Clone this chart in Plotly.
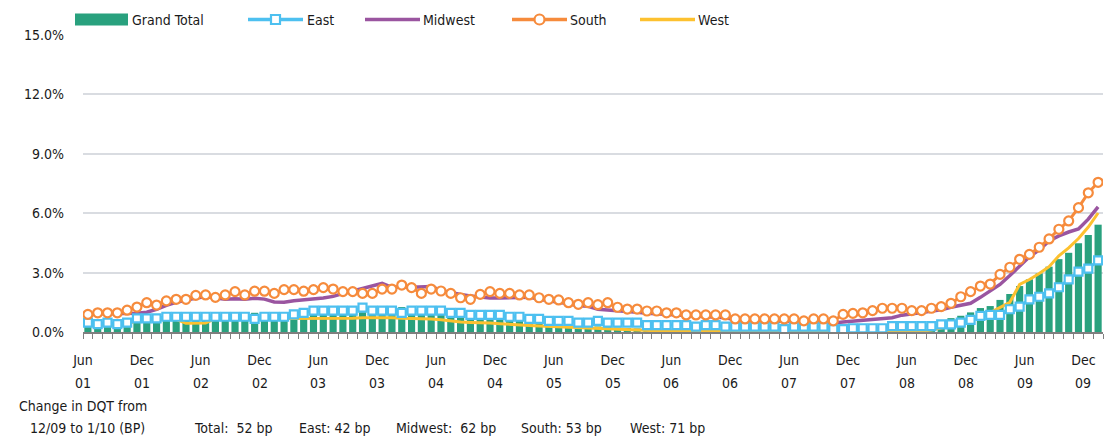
import plotly.graph_objects as go
import pandas as pd

# ---------------- data (percent) ----------------
months = [d.strftime("%b %y") for d in pd.date_range("2001-06-01", periods=104, freq="MS")]

grand_total = [
    0.25, 0.22, 0.25, 0.22, 0.25, 0.55, 0.55, 0.55, 0.75, 0.75,
    0.75, 0.75, 0.75, 0.75, 0.75, 0.75, 0.75, 0.97, 0.78, 0.78,
    0.80, 0.85, 0.90, 0.95, 0.95, 0.95, 0.95, 0.98, 1.00, 1.05,
    1.10, 1.10, 1.26, 1.10, 1.05, 1.00, 0.98, 0.92, 0.88, 0.82,
    0.78, 0.72, 0.68, 0.60, 0.55, 0.50, 0.45, 0.40, 0.36, 0.34,
    0.30, 0.28, 0.28, 0.25, 0.22, 0.20, 0.18, 0.14, 0.14, 0.14,
    0.14, 0.14, 0.14, 0.14, 0.14, 0.14, 0.10, 0.10, 0.10, 0.10,
    0.10, 0.10, 0.10, 0.10, 0.10, 0.10, 0.10, 0.10, 0.12, 0.12,
    0.15, 0.15, 0.20, 0.25, 0.30, 0.40, 0.50, 0.58, 0.70, 0.82,
    0.99, 1.21, 1.31, 1.62, 1.92, 2.32, 2.66, 2.96, 3.30, 3.68,
    4.00, 4.48, 4.90, 5.42,
]
east = [
    0.47, 0.40, 0.47, 0.40, 0.47, 0.69, 0.69, 0.69, 0.77, 0.77,
    0.77, 0.77, 0.77, 0.77, 0.77, 0.77, 0.77, 0.66, 0.77, 0.77,
    0.77, 0.89, 0.97, 1.08, 1.08, 1.08, 1.08, 1.08, 1.23, 1.08,
    1.08, 1.08, 0.97, 1.08, 1.08, 1.08, 1.08, 0.97, 0.97, 0.86,
    0.86, 0.86, 0.86, 0.77, 0.77, 0.66, 0.66, 0.56, 0.56, 0.56,
    0.47, 0.47, 0.56, 0.47, 0.47, 0.47, 0.47, 0.35, 0.35, 0.35,
    0.35, 0.35, 0.27, 0.35, 0.35, 0.27, 0.27, 0.27, 0.27, 0.27,
    0.27, 0.15, 0.27, 0.27, 0.27, 0.27, 0.15, 0.15, 0.19, 0.19,
    0.19, 0.19, 0.30, 0.30, 0.30, 0.30, 0.30, 0.39, 0.39, 0.47,
    0.61, 0.81, 0.86, 0.86, 1.15, 1.28, 1.65, 1.78, 1.95, 2.26,
    2.66, 3.05, 3.20, 3.62,
]
midwest = [
    0.85, 0.92, 0.92, 0.92, 0.95, 0.95, 1.00, 1.15, 1.35, 1.50,
    1.60, 1.72, 1.78, 1.72, 1.66, 1.68, 1.66, 1.70, 1.66, 1.52,
    1.50, 1.58, 1.62, 1.68, 1.72, 1.80, 1.95, 2.08, 2.20, 2.32,
    2.46, 2.25, 2.28, 2.26, 2.30, 2.30, 2.10, 1.98, 1.90, 1.82,
    1.75, 1.72, 1.72, 1.74, 1.78, 1.76, 1.65, 1.58, 1.52, 1.42,
    1.32, 1.30, 1.15, 1.12, 1.08, 1.02, 1.00, 0.95, 0.92, 0.88,
    0.85, 0.80, 0.78, 0.76, 0.74, 0.72, 0.62, 0.60, 0.58, 0.57,
    0.56, 0.55, 0.54, 0.50, 0.52, 0.50, 0.45, 0.50, 0.55, 0.58,
    0.62, 0.66, 0.72, 0.85, 0.92, 0.97, 1.03, 1.12, 1.25, 1.35,
    1.45, 1.75, 2.05, 2.40, 2.85, 3.35, 3.80, 4.15, 4.60, 4.85,
    5.05, 5.20, 5.70, 6.32,
]
south = [
    0.89, 0.97, 0.97, 0.97, 1.10, 1.26, 1.48, 1.36, 1.57, 1.65,
    1.65, 1.85, 1.87, 1.75, 1.87, 2.04, 1.87, 2.06, 2.06, 1.95,
    2.14, 2.14, 2.06, 2.14, 2.24, 2.17, 2.04, 2.04, 1.95, 1.95,
    2.17, 2.17, 2.37, 2.24, 1.95, 2.17, 2.07, 1.95, 1.73, 1.65,
    1.90, 2.04, 1.95, 1.95, 1.87, 1.87, 1.73, 1.65, 1.62, 1.48,
    1.40, 1.48, 1.38, 1.48, 1.25, 1.16, 1.16, 1.06, 1.06, 0.97,
    0.97, 0.86, 0.86, 0.86, 0.86, 0.86, 0.66, 0.66, 0.66, 0.66,
    0.66, 0.66, 0.66, 0.56, 0.66, 0.66, 0.56, 0.89, 0.94, 0.97,
    1.08, 1.20, 1.20, 1.20, 1.08, 1.08, 1.20, 1.28, 1.45, 1.78,
    2.04, 2.32, 2.42, 2.91, 3.27, 3.67, 3.92, 4.28, 4.70, 5.19,
    5.61, 6.28, 7.03, 7.56,
]
west = [
    0.35, 0.35, 0.35, 0.35, 0.35, 0.62, 0.62, 0.62, 0.64, 0.64,
    0.44, 0.44, 0.46, 0.68, 0.68, 0.68, 0.68, 0.62, 0.68, 0.68,
    0.68, 0.70, 0.70, 0.70, 0.70, 0.70, 0.70, 0.70, 0.72, 0.72,
    0.75, 0.72, 0.70, 0.69, 0.66, 0.66, 0.62, 0.55, 0.50, 0.48,
    0.48, 0.45, 0.42, 0.38, 0.35, 0.33, 0.30, 0.28, 0.25, 0.22,
    0.20, 0.18, 0.16, 0.15, 0.14, 0.12, 0.10, 0.06, 0.06, 0.06,
    0.06, 0.06, 0.06, 0.06, 0.06, 0.06, 0.04, 0.04, 0.04, 0.04,
    0.04, 0.04, 0.04, 0.04, 0.04, 0.04, 0.04, 0.04, 0.04, 0.04,
    0.04, 0.04, 0.04, 0.04, 0.04, 0.04, 0.10, 0.20, 0.30, 0.45,
    0.60, 0.78, 0.98, 1.22, 1.50, 2.40, 2.65, 2.95, 3.30, 3.85,
    4.25, 4.72, 5.30, 6.01,
]

y_ticks = [0, 3, 6, 9, 12, 15]
change_labels = ["Total:\u00a0 52 bp", "East: 42 bp", "Midwest:\u00a0 62 bp", "South: 53 bp", "West: 71 bp"]

# ---------------- styling ----------------
FONT = "DejaVu Sans Condensed, Liberation Sans, Arial, sans-serif"
FS = 14
TXT = "#1a1a1a"
C_GREEN = "#29a17e"
C_BLUE = "#4dc0f0"
C_PURPLE = "#9a55a0"
C_ORANGE = "#f68b3c"
C_YELLOW = "#fdc12f"

W, H = 1108, 440
ML, MR, MT, MB = 83, 5, 35, 108
PW, PH = W - ML - MR, H - MT - MB


def px(x):
    return (x - ML) / PW


def py(y):
    return (H - MB - y) / PH


x = list(range(len(months)))

fig = go.Figure()
fig.add_trace(go.Bar(x=x, y=grand_total, name="Grand Total", marker_color=C_GREEN,
                     marker_line_width=0, showlegend=False))
fig.add_trace(go.Scatter(x=x, y=west, name="West", mode="lines",
                         line=dict(color=C_YELLOW, width=3), showlegend=False))
fig.add_trace(go.Scatter(x=x, y=midwest, name="Midwest", mode="lines",
                         line=dict(color=C_PURPLE, width=3.5), showlegend=False))
fig.add_trace(go.Scatter(x=x, y=east, name="East", mode="lines+markers",
                         line=dict(color=C_BLUE, width=3),
                         marker=dict(symbol="square", size=8, color="white",
                                     line=dict(color=C_BLUE, width=2.2)),
                         showlegend=False))
fig.add_trace(go.Scatter(x=x, y=south, name="South", mode="lines+markers",
                         line=dict(color=C_ORANGE, width=3),
                         marker=dict(symbol="circle", size=9, color="white",
                                     line=dict(color=C_ORANGE, width=2.2)),
                         showlegend=False))

# x ticks: label every 6 months, placed on the boundary before the month
label_idx = list(range(0, len(months), 6))
tickvals = [i - 0.5 for i in label_idx]
ticktext = [months[i].split()[0] for i in label_idx]
yeartext = [months[i].split()[1] for i in label_idx]

fig.update_xaxes(range=[-0.5, len(months) - 0.5], tickmode="array", tickvals=tickvals,
                 ticktext=ticktext, ticks="outside", ticklen=5, tickwidth=1, tickcolor="#808080",
                 minor=dict(tick0=-0.5, dtick=1, ticks="outside", ticklen=5, tickwidth=1,
                            tickcolor="#808080", showgrid=False),
                 showline=True, linecolor="#7f7f7f", linewidth=1.5, showgrid=False,
                 zeroline=False, tickfont=dict(family=FONT, size=FS, color=TXT),
                 ticklabelstandoff=9)
fig.update_yaxes(range=[0, 15], tickmode="array", tickvals=y_ticks,
                 ticktext=[f"{v:.1f}%" for v in y_ticks], showgrid=True,
                 gridcolor="#d9dce1", gridwidth=1.6, zeroline=False, showline=False,
                 ticks="", tickfont=dict(family=FONT, size=FS, color=TXT),
                 ticklabelstandoff=18)

shapes = []
annotations = []
# year row under the month labels
for tv, yt in zip(tickvals, yeartext):
    annotations.append(dict(text=yt, x=tv, y=py(383), xref="x", yref="paper",
                            xanchor="center", yanchor="middle", showarrow=False,
                            font=dict(family=FONT, size=FS, color=TXT)))
# white band covering the top gridline behind the legend
shapes.append(dict(type="rect", xref="paper", yref="paper", x0=px(72), x1=px(743),
                   y0=py(40), y1=py(2), fillcolor="white", line_width=0, layer="above"))
# custom legend
LY = 19.5
shapes.append(dict(type="rect", xref="paper", yref="paper", x0=px(75), x1=px(128),
                   y0=py(LY + 6), y1=py(LY - 6), fillcolor=C_GREEN, line_width=0, layer="above"))
legend_items = [
    ("Grand Total", 130, None, None),
    ("East", 305, C_BLUE, "square"),
    ("Midwest", 421, C_PURPLE, None),
    ("South", 568, C_ORANGE, "circle"),
    ("West", 696, C_YELLOW, None),
]
line_spans = {"East": (248, 303), "Midwest": (365, 420), "South": (512, 567), "West": (640, 695)}
for name, tx, col, sym in legend_items:
    if name in line_spans:
        a, b = line_spans[name]
        shapes.append(dict(type="line", xref="paper", yref="paper", x0=px(a), x1=px(b),
                           y0=py(LY), y1=py(LY), line=dict(color=col, width=3.5), layer="above"))
        c = (a + b) / 2
        if sym == "square":
            shapes.append(dict(type="rect", xref="paper", yref="paper", x0=px(c - 4.5), x1=px(c + 4.5),
                               y0=py(LY + 4.5), y1=py(LY - 4.5), fillcolor="white",
                               line=dict(color=col, width=2.2), layer="above"))
        elif sym == "circle":
            shapes.append(dict(type="circle", xref="paper", yref="paper", x0=px(c - 5), x1=px(c + 5),
                               y0=py(LY + 5), y1=py(LY - 5), fillcolor="white",
                               line=dict(color=col, width=2.2), layer="above"))
    annotations.append(dict(text=name, x=px(tx), y=py(LY), xref="paper", yref="paper",
                            xanchor="left", yanchor="middle", showarrow=False,
                            font=dict(family=FONT, size=FS, color=TXT)))

# footer texts
annotations.append(dict(text="Change in DQT from", x=px(82.5), y=py(406), xref="paper", yref="paper",
                        xanchor="center", yanchor="middle", showarrow=False,
                        font=dict(family=FONT, size=FS, color=TXT)))
annotations.append(dict(text="12/09 to 1/10 (BP)", x=px(87), y=py(428), xref="paper", yref="paper",
                        xanchor="center", yanchor="middle", showarrow=False,
                        font=dict(family=FONT, size=FS, color=TXT)))
for lbl, lx in zip(change_labels, [192, 297, 394, 519, 628]):
    annotations.append(dict(text=lbl, x=px(lx), y=py(428), xref="paper", yref="paper",
                            xanchor="left", yanchor="middle", showarrow=False,
                            font=dict(family=FONT, size=FS, color=TXT)))

fig.update_layout(width=W, height=H, margin=dict(l=ML, r=MR, t=MT, b=MB),
                  plot_bgcolor="white", paper_bgcolor="white", bargap=0.27,
                  showlegend=False, shapes=shapes, annotations=annotations,
                  font=dict(family=FONT, size=FS, color=TXT))

fig.write_html("out.html", config={"displayModeBar": False},
               post_script="document.body.style.margin='0';document.body.style.overflow='hidden';")
